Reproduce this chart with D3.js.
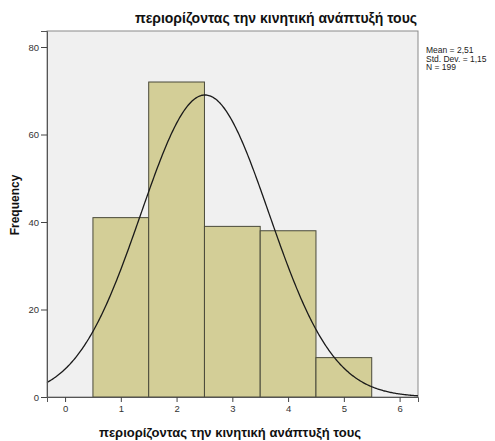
<!DOCTYPE html>
<html>
<head>
<meta charset="utf-8">
<script src="https://cdn.jsdelivr.net/npm/d3@7"></script>
<style>
  html, body { margin: 0; padding: 0; background: #ffffff; }
  svg { display: block; font-family: Arial, "Liberation Sans", sans-serif; }
</style>
</head>
<body>
<svg id="chart" width="495" height="441"></svg>
<script>
// Histogram data
const binCenters = [1, 2, 3, 4, 5];
const frequencies = [41, 72, 39, 38, 9];
const binWidth = 1;
const xTicks = [0, 1, 2, 3, 4, 5, 6];
const yTicks = [0, 20, 40, 60, 80];
const statMean = 2.51;
const statSD = 1.15;
const statN = 199;
const titleText = "περιορίζοντας την κινητική ανάπτυξή τους";
const xLabelText = "περιορίζοντας την κινητική ανάπτυξή τους";
const yLabelText = "Frequency";
const statLines = ["Mean = 2,51", "Std. Dev. = 1,15", "N = 199"];

const svg = d3.select("#chart");
const plot = { left: 47, right: 418, top: 31, bottom: 397 };

const x = d3.scaleLinear().domain([-0.324, 6.33]).range([plot.left, plot.right]);
const y = d3.scaleLinear().domain([0, 83.66]).range([plot.bottom, plot.top]);

// plot background
svg.append("rect")
  .attr("x", plot.left).attr("y", plot.top)
  .attr("width", plot.right - plot.left).attr("height", plot.bottom - plot.top)
  .attr("fill", "#f0f0f0").attr("stroke", "#8a8a8a").attr("stroke-width", 1);

// bars
svg.append("g").selectAll("rect")
  .data(binCenters.map((c, i) => ({ c, f: frequencies[i] })))
  .join("rect")
  .attr("x", d => x(d.c - binWidth / 2))
  .attr("y", d => y(d.f))
  .attr("width", d => x(d.c + binWidth / 2) - x(d.c - binWidth / 2))
  .attr("height", d => y(0) - y(d.f))
  .attr("fill", "#d3ce97")
  .attr("stroke", "#4a4a3a")
  .attr("stroke-width", 1);

// fitted normal curve scaled to counts
const xs = d3.range(400).map(i => x.domain()[0] + (x.domain()[1] - x.domain()[0]) * i / 399);
const normal = v => statN * binWidth / (statSD * Math.sqrt(2 * Math.PI)) *
  Math.exp(-0.5 * Math.pow((v - statMean) / statSD, 2));
svg.append("path")
  .datum(xs)
  .attr("fill", "none")
  .attr("stroke", "#1a1a1a")
  .attr("stroke-width", 1.3)
  .attr("d", d3.line().x(v => x(v)).y(v => y(normal(v))));

// axes
const yAxis = d3.axisLeft(y).tickValues(yTicks).tickSize(6).tickPadding(2).tickFormat(d3.format("d"));
const yg = svg.append("g").attr("transform", `translate(${plot.left},0)`).call(yAxis);
const xAxis = d3.axisBottom(x).tickValues(xTicks).tickSize(5).tickPadding(3).tickFormat(d3.format("d"));
const xg = svg.append("g").attr("transform", `translate(0,${plot.bottom})`).call(xAxis);
[yg, xg].forEach(g => {
  g.select(".domain").attr("stroke", "#555");
  g.selectAll(".tick line").attr("stroke", "#444");
  g.selectAll(".tick text").attr("fill", "#333").style("font-size", "9.5px")
    .style("font-family", "Arial, 'Liberation Sans', sans-serif");
});

// title
svg.append("text")
  .attr("x", 276).attr("y", 23)
  .attr("text-anchor", "middle")
  .style("font-size", "14px").style("font-weight", "bold")
  .attr("fill", "#111")
  .text(titleText);

// x axis label
svg.append("text")
  .attr("x", 230).attr("y", 437)
  .attr("text-anchor", "middle")
  .style("font-size", "13px").style("font-weight", "bold")
  .attr("fill", "#111")
  .text(xLabelText);

// y axis label
svg.append("text")
  .attr("transform", "translate(19,205) rotate(-90)")
  .attr("text-anchor", "middle")
  .style("font-size", "12px").style("font-weight", "bold")
  .attr("fill", "#111")
  .text(yLabelText);

// summary statistics
svg.append("g").selectAll("text")
  .data(statLines)
  .join("text")
  .attr("x", 426)
  .attr("y", (d, i) => 53 + i * 8.5)
  .style("font-size", "8.5px")
  .attr("fill", "#222")
  .text(d => d);
</script>
</body>
</html>
